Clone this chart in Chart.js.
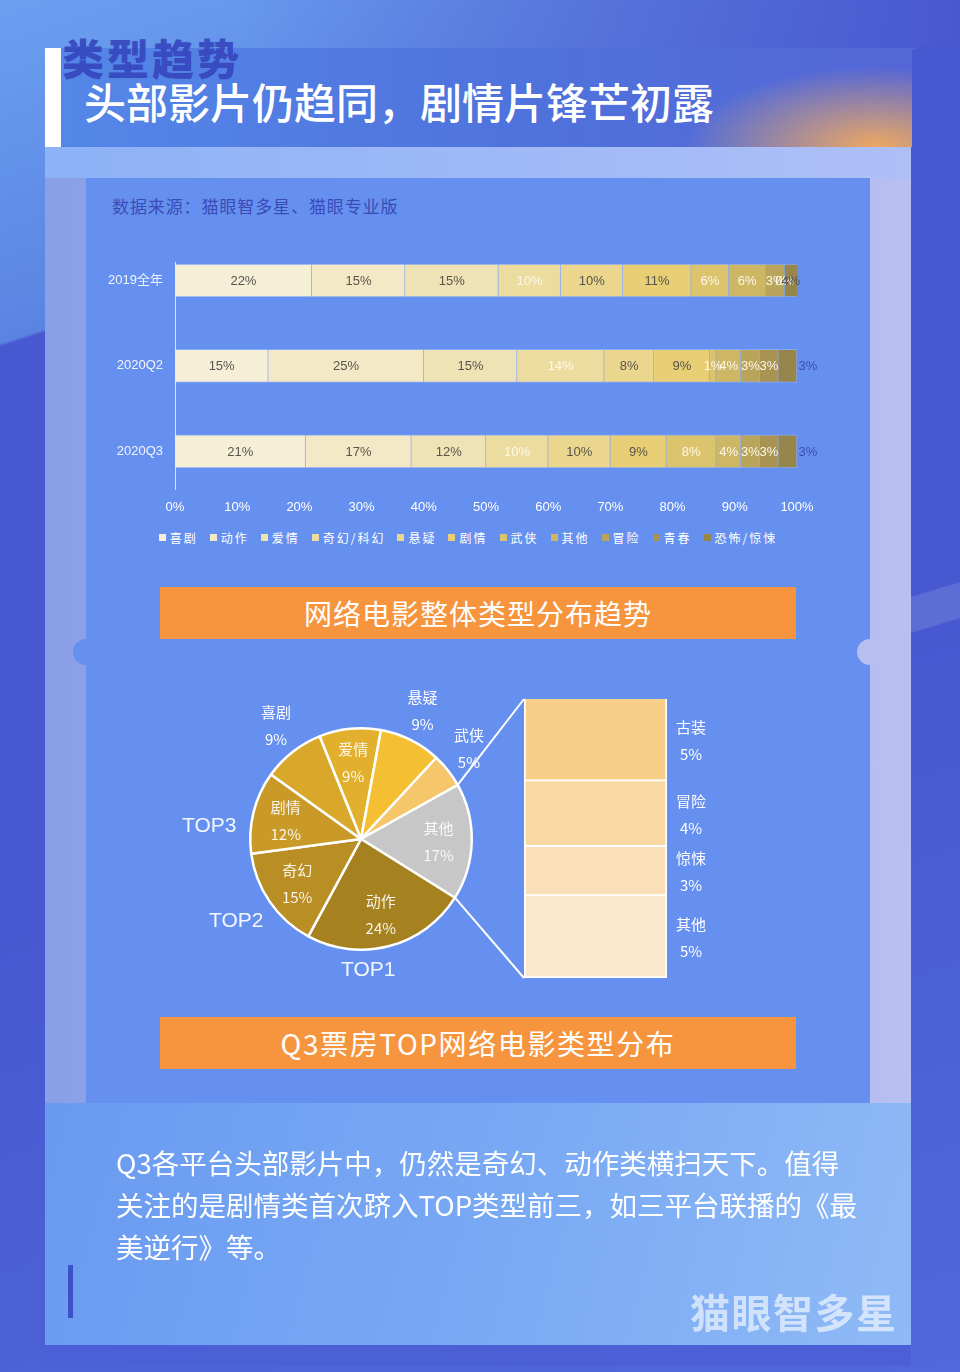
<!DOCTYPE html>
<html>
<head>
<meta charset="utf-8">
<script src="https://cdn.jsdelivr.net/npm/chart.js@4.4.1/dist/chart.umd.min.js"></script>
<style>
html, body { margin: 0; padding: 0; }
body {
  width: 960px; height: 1372px; position: relative; overflow: hidden;
  font-family: "Noto Sans CJK SC", "Noto Sans", sans-serif;
  background: linear-gradient(162deg, #6b9ff0 0%, #5a84e2 20.4%, #4858d0 20.6%, #4858d0 55%, #5068da 100%);
}
.abs { position: absolute; }
#topfade { left: 0; top: 0; width: 960px; height: 48px; background: linear-gradient(90deg, rgba(74,88,207,0) 25%, #4a58cf 100%); }
#stripe { left: 905px; top: 588px; width: 70px; height: 36px; background: rgba(255,255,255,0.12); transform: skewY(-17deg); }
#card { left: 45px; top: 48px; width: 866px; height: 1318px; background: linear-gradient(90deg, #8a9fe6, #b8bff2); }
#topband { left: 45px; top: 147px; width: 866px; height: 31px; background: linear-gradient(90deg, #8db2f7, #aebff6); }
#bottomband { left: 45px; top: 1103px; width: 866px; height: 242px; background: linear-gradient(105deg, #6a9af0 0%, #7aaaf4 55%, #8fbaf6 100%); }
#bottomstrip { left: 45px; top: 1345px; width: 866px; height: 21px; background: linear-gradient(90deg, #4b60d6, #4d5fd6); }
#header { left: 61px; top: 48px; width: 851px; height: 99px;
  background: radial-gradient(ellipse 190px 80px at 815px 99px, rgba(246,172,92,0.95), rgba(246,172,92,0) 100%),
              linear-gradient(90deg, #5487e8 0%, #4f72dc 55%, #5566d6 100%); }
#whitebar { left: 45px; top: 48px; width: 16px; height: 99px; background: #fff; }
#kicker { left: 62px; top: 26px; font-size: 42px; font-weight: 900; color: #3646be; opacity: 0.9; letter-spacing: 3px; }
#title { left: 84px; top: 70px; font-size: 42px; color: #fff; font-weight: 500; white-space: nowrap; }
#panel { left: 86px; top: 178px; width: 784px; height: 925px; background: #6690ef; }
.notch { width: 26px; height: 26px; border-radius: 13px; }
#source { left: 112px; top: 193px; font-size: 17px; color: #3a4bb6; letter-spacing: 0.9px; }
.banner { left: 160px; width: 636px; height: 52px; background: #f7953f; color: #fff; font-size: 28px; line-height: 52px; text-align: center; letter-spacing: 1px; }
#legend { left: 86px; top: 529px; width: 764px; display: flex; justify-content: center; gap: 12px; font-size: 12px; color: #fff; }
#legend span.item { display: flex; align-items: center; letter-spacing: 2px; }
#legend i { display: inline-block; width: 7px; height: 7px; margin-right: 4px; }
.top { font-size: 21px; color: #f2f6ff; font-family: "Liberation Sans", "Noto Sans", sans-serif; }
#para { left: 116px; top: 1141px; width: 760px; font-size: 27.5px; line-height: 42px; color: #fff; }
#blue { left: 68px; top: 1265px; width: 5px; height: 53px; background: #3d52c9; }
#mark { left: 690px; top: 1282px; font-size: 40px; font-weight: 700; color: rgba(255,255,255,0.62); letter-spacing: 1.5px; }
canvas { position: absolute; }
</style>
</head>
<body>
<div class="abs" id="topfade"></div>
<div class="abs" id="stripe"></div>
<div class="abs" id="card"></div>
<div class="abs" id="topband"></div>
<div class="abs" id="bottomband"></div>
<div class="abs" id="bottomstrip"></div>
<div class="abs" id="header"></div>
<div class="abs" id="whitebar"></div>
<div class="abs" id="kicker">类型趋势</div>
<div class="abs" id="title">头部影片仍趋同，剧情片锋芒初露</div>
<div class="abs" id="panel"></div>
<div class="abs notch" style="left:73px;top:639px;background:#6690ef;"></div>
<div class="abs notch" style="left:857px;top:639px;background:#b7bef2;"></div>
<div class="abs" id="source">数据来源：猫眼智多星、猫眼专业版</div>

<canvas id="barChart" width="784" height="300" style="left:86px;top:218px;"></canvas>
<div class="abs" id="legend"></div>

<div class="abs banner" style="top:587px;">网络电影整体类型分布趋势</div>

<canvas id="pieChart" width="380" height="310" style="left:170px;top:680px;"></canvas>
<canvas id="stackChart" width="280" height="300" style="left:505px;top:690px;"></canvas>
<canvas id="links" width="960" height="1372" style="left:0;top:0;pointer-events:none;"></canvas>

<div class="abs top" style="left:182px;top:813px;">TOP3</div>
<div class="abs top" style="left:209px;top:908px;">TOP2</div>
<div class="abs top" style="left:341px;top:957px;">TOP1</div>

<div class="abs banner" style="top:1017px;letter-spacing:1.6px;">Q3票房TOP网络电影类型分布</div>

<div class="abs" id="para">Q3各平台头部影片中，仍然是奇幻、动作类横扫天下。值得<br>关注的是剧情类首次跻入TOP类型前三，如三平台联播的《最<br>美逆行》等。</div>
<div class="abs" id="blue"></div>
<div class="abs" id="mark">猫眼智多星</div>

<script>
// bar chart data: share of each genre per period
var periods = ['2019全年', '2020Q2', '2020Q3'];
var genres = ['喜剧', '动作', '爱情', '奇幻/科幻', '悬疑', '剧情', '武侠', '其他', '冒险', '青春', '恐怖/惊悚'];
var xiju = [22, 15, 21];
var dongzuo = [15, 25, 17];
var aiqing = [15, 15, 12];
var qihuan = [10, 14, 10];
var xuanyi = [10, 8, 10];
var juqing = [11, 9, 9];
var wuxia = [6, 1, 8];
var qita = [6, 4, 4];
var maoxian = [3, 3, 3];
var qingchun = [0, 3, 3];
var kongbu = [4, 3, 3];
var xTicks = [0, 10, 20, 30, 40, 50, 60, 70, 80, 90, 100];

// pie: Q3 top films by genre
var pieLabels = ['爱情', '悬疑', '武侠', '其他', '动作', '奇幻', '剧情', '喜剧'];
var pieValues = [9, 9, 5, 17, 24, 15, 12, 9];
var pieOutside = ['悬疑', '武侠', '喜剧'];

// breakdown of "其他"
var otherLabels = ['古装', '冒险', '惊悚', '其他'];
var otherValues = [5, 4, 3, 5];

var barColors = ['#f6efd8', '#f3e9c6', '#efe2b4', '#eddc9f', '#ebd68e', '#e8cf76', '#dcc46f', '#cdb764', '#b8a45a', '#a89352', '#978649'];
var dark = '#57544c', light = '#fdf8ea';
var labelColors = [dark, dark, dark, light, dark, dark, light, light, light, light, dark];
var pieColors = ['#e2b02c', '#f4bf33', '#f6c76a', '#c7c7c7', '#a68120', '#b98e24', '#c99a27', '#d9a82a'];
var otherColors = ['#f7cf89', '#f8d8a3', '#fbdfb9', '#fce8cd'];
var numFont = '"Liberation Sans", Arial, "Noto Sans CJK SC", sans-serif';
var cjkFont = '"Noto Sans CJK SC", "Noto Sans", sans-serif';

var seriesValues = [xiju, dongzuo, aiqing, qihuan, xuanyi, juqing, wuxia, qita, maoxian, qingchun, kongbu];

var barLabels = {
  id: 'barLabels',
  beforeDatasetsDraw: function (chart) {
    var c = chart.ctx, a = chart.chartArea;
    c.save();
    c.strokeStyle = 'rgba(255,255,255,0.75)';
    c.lineWidth = 1;
    c.beginPath();
    c.moveTo(a.left + 0.5, a.top + 24);
    c.lineTo(a.left + 0.5, a.bottom - 4);
    c.stroke();
    c.restore();
  },
  afterDatasetsDraw: function (chart) {
    var c = chart.ctx, a = chart.chartArea;
    var n = chart.data.datasets.length;
    c.save();
    c.font = '13px ' + numFont;
    c.textAlign = 'center';
    c.textBaseline = 'middle';
    chart.data.datasets.forEach(function (ds, di) {
      var meta = chart.getDatasetMeta(di);
      meta.data.forEach(function (el, i) {
        var v = ds.data[i];
        if (v == null) return;
        var x0 = Math.min(el.base, el.x), x1 = Math.max(el.base, el.x);
        var x, col = labelColors[di];
        if (di === n - 1 && x1 <= a.right + 0.5) {
          x = x1 + 11;
          col = '#3e4db0';
        } else {
          x = (x0 + Math.min(x1, a.right)) / 2;
        }
        c.fillStyle = col;
        c.fillText(v + '%', x, el.y + 1);
      });
    });
    c.restore();
  }
};

var barChart = new Chart(document.getElementById('barChart'), {
  type: 'bar',
  data: {
    labels: periods,
    datasets: genres.map(function (g, i) {
      return {
        label: g,
        data: seriesValues[i],
        backgroundColor: barColors[i],
        borderColor: 'rgba(255,255,255,0.22)',
        borderWidth: 1,
        barThickness: 33
      };
    })
  },
  options: {
    indexAxis: 'y',
    responsive: false,
    animation: false,
    layout: { padding: { left: 0, right: 73, top: 0, bottom: 0 } },
    plugins: { legend: { display: false }, tooltip: { enabled: false } },
    scales: {
      x: {
        stacked: true, min: 0, max: 100,
        afterBuildTicks: function (s) { s.ticks = xTicks.map(function (v) { return { value: v }; }); },
        afterFit: function (s) { s.height = 24; },
        ticks: { color: '#fff', padding: 6, font: { size: 13, family: numFont }, callback: function (v) { return v + '%'; } },
        grid: { display: false, drawTicks: false }, border: { display: false }
      },
      y: {
        stacked: true,
        afterFit: function (s) { s.width = 89; },
        ticks: { color: '#f2f4ff', padding: 12, font: { size: 13, family: numFont } },
        grid: { display: false, drawTicks: false }, border: { display: false }
      }
    }
  },
  plugins: [barLabels]
});

// legend from the chart's own datasets
var legendBox = document.getElementById('legend');
barChart.data.datasets.forEach(function (ds) {
  var s = document.createElement('span');
  s.className = 'item';
  s.innerHTML = '<i style="background:' + ds.backgroundColor + '"></i>' + ds.label;
  legendBox.appendChild(s);
});

var pieText = {
  id: 'pieText',
  afterDatasetsDraw: function (chart) {
    var c = chart.ctx;
    var meta = chart.getDatasetMeta(0);
    c.save();
    c.textAlign = 'center';
    c.textBaseline = 'middle';
    c.font = '15px ' + cjkFont;
    meta.data.forEach(function (arc, i) {
      var name = chart.data.labels[i];
      var mid = (arc.startAngle + arc.endAngle) / 2;
      var out = pieOutside.indexOf(name) >= 0;
      var r = arc.outerRadius * (out ? 1.24 : 0.7);
      var x = arc.x + Math.cos(mid) * r, y = arc.y + Math.sin(mid) * r;
      var dy = out ? -6 : 0;
      c.fillStyle = out ? '#ffffff' : 'rgba(255,255,255,0.9)';
      c.fillText(name, x, y - 13 + dy);
      c.fillText(chart.data.datasets[0].data[i] + '%', x, y + 14 + dy);
    });
    c.restore();
  }
};

var pieChart = new Chart(document.getElementById('pieChart'), {
  type: 'pie',
  data: {
    labels: pieLabels,
    datasets: [{ data: pieValues, backgroundColor: pieColors, borderColor: '#ffffff', borderWidth: 2.5 }]
  },
  options: {
    responsive: false,
    animation: false,
    rotation: -22,
    layout: { padding: { left: 79, right: 77, top: 47, bottom: 39 } },
    plugins: { legend: { display: false }, tooltip: { enabled: false } }
  },
  plugins: [pieText]
});

var stackText = {
  id: 'stackText',
  afterDatasetsDraw: function (chart) {
    var c = chart.ctx, a = chart.chartArea;
    c.save();
    c.textAlign = 'center';
    c.textBaseline = 'middle';
    c.font = '15px ' + cjkFont;
    c.fillStyle = '#ffffff';
    chart.data.datasets.forEach(function (ds, di) {
      var el = chart.getDatasetMeta(di).data[0];
      var cy = (el.y + el.base) / 2;
      c.fillText(ds.label, a.right + 24, cy - 13);
      c.fillText(ds.data[0] + '%', a.right + 24, cy + 14);
    });
    c.restore();
  }
};

var stackChart = new Chart(document.getElementById('stackChart'), {
  type: 'bar',
  data: {
    labels: ['其他'],
    datasets: otherLabels.map(function (g, i) {
      return { label: g, data: [otherValues[i]], backgroundColor: otherColors[i], borderColor: '#ffffff', borderWidth: 2, categoryPercentage: 1, barPercentage: 1 };
    })
  },
  options: {
    responsive: false,
    animation: false,
    layout: { padding: { left: 19, right: 118, top: 9, bottom: 12 } },
    plugins: { legend: { display: false }, tooltip: { enabled: false } },
    scales: {
      x: { stacked: true, display: false },
      y: { stacked: true, display: false, reverse: true, min: 0, max: otherValues.reduce(function (s, v) { return s + v; }, 0) }
    }
  },
  plugins: [stackText]
});

// connector lines from the "其他" slice to the breakdown column
(function () {
  var link = document.getElementById('links').getContext('2d');
  var pc = document.getElementById('pieChart'), sc = document.getElementById('stackChart');
  var po = { x: pc.offsetLeft, y: pc.offsetTop }, so = { x: sc.offsetLeft, y: sc.offsetTop };
  var arcs = pieChart.getDatasetMeta(0).data;
  var arc = arcs[pieLabels.indexOf('其他')];
  var p1 = { x: po.x + arc.x + Math.cos(arc.startAngle) * arc.outerRadius, y: po.y + arc.y + Math.sin(arc.startAngle) * arc.outerRadius };
  var p2 = { x: po.x + arc.x + Math.cos(arc.endAngle) * arc.outerRadius, y: po.y + arc.y + Math.sin(arc.endAngle) * arc.outerRadius };
  var topEl = stackChart.getDatasetMeta(0).data[0];
  var botEl = stackChart.getDatasetMeta(otherLabels.length - 1).data[0];
  var q1 = { x: so.x + topEl.x - topEl.width / 2, y: so.y + Math.min(topEl.y, topEl.base) };
  var q2 = { x: so.x + botEl.x - botEl.width / 2, y: so.y + Math.max(botEl.y, botEl.base) };
  link.strokeStyle = '#ffffff';
  link.lineWidth = 2;
  link.beginPath();
  link.moveTo(p1.x, p1.y); link.lineTo(q1.x, q1.y);
  link.moveTo(p2.x, p2.y); link.lineTo(q2.x, q2.y);
  link.stroke();
})();
</script>
</body>
</html>
